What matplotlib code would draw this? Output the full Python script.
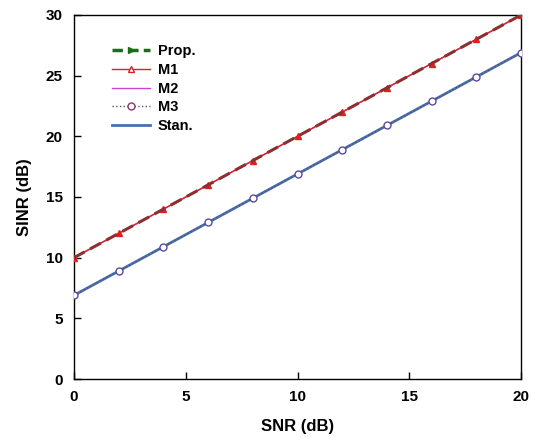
import matplotlib
matplotlib.use("Agg")
import matplotlib.pyplot as plt
from matplotlib.lines import Line2D

plt.rcParams['font.family'] = ['Liberation Sans', 'DejaVu Sans']
plt.rcParams['font.weight'] = 'bold'

snr = [0, 2, 4, 6, 8, 10, 12, 14, 16, 18, 20]
prop = [10, 12, 14, 16, 18, 20, 22, 24, 26, 28, 30]
m1 = [10, 12, 14, 16, 18, 20, 22, 24, 26, 28, 30]
m2 = [10, 12, 14, 16, 18, 20, 22, 24, 26, 28, 30]
m3 = [6.9, 8.9, 10.9, 12.9, 14.9, 16.9, 18.9, 20.9, 22.9, 24.9, 26.9]
stan = [6.9, 8.9, 10.9, 12.9, 14.9, 16.9, 18.9, 20.9, 22.9, 24.9, 26.9]

fig = plt.figure(figsize=(5.4, 4.37), dpi=100)
ax = fig.add_axes([0.137, 0.1327, 0.828, 0.833])

ax.plot(snr, stan, color='#4a6fb5', lw=2.0, label='Stan.', zorder=2)
ax.plot(snr, m3, color='#555555', lw=1.0, ls=':', marker='o', ms=5,
        mfc='white', mec='#5a4aa0', mew=1.0, label='M3', zorder=3)
ax.plot(snr, m2, color='#d040d0', lw=1.0, label='M2', zorder=2)
ax.plot(snr, m1, color='#e02020', lw=1.0, marker='^', ms=5,
        mfc='#e02020', mec='#e02020', label='M1', zorder=3)
ax.plot(snr, prop, color='#8a3030', lw=2.2, ls=(0, (4, 2)), label='Prop.', zorder=4)

handles = [
    Line2D([], [], color='#1a6e1a', lw=2.5, ls=(0, (3, 1.5)), marker='>', ms=5,
           mfc='#1a6e1a', mec='#1a6e1a'),
    Line2D([], [], color='#e02020', lw=1.0, marker='^', ms=5, mfc='white', mec='#e02020'),
    Line2D([], [], color='#d040d0', lw=1.0),
    Line2D([], [], color='#555555', lw=1.0, ls=':', marker='o', ms=5, mfc='white', mec='#8a3a6a'),
    Line2D([], [], color='#4a6fb5', lw=2.0),
]
labels = ['Prop.', 'M1', 'M2', 'M3', 'Stan.']
ax.legend(handles, labels, loc='upper left', bbox_to_anchor=(0.055, 0.955),
          frameon=False, handlelength=2.6, handletextpad=0.55, labelspacing=0.32,
          prop={'weight': 'bold', 'size': 10.5})

ax.set_xlim(0, 20)
ax.set_ylim(0, 30)
ax.set_xticks([0, 5, 10, 15, 20])
ax.set_yticks([0, 5, 10, 15, 20, 25, 30])
ax.tick_params(direction='in', length=5, labelsize=11, width=1, pad=8)
for lab in ax.get_xticklabels() + ax.get_yticklabels():
    lab.set_fontweight('bold')
ax.set_xlabel('SNR (dB)', fontsize=12, fontweight='bold', labelpad=11)
ax.set_ylabel('SINR (dB)', fontsize=12, fontweight='bold', labelpad=10)
for s in ax.spines.values():
    s.set_linewidth(1.0)

fig.savefig('out.png', dpi=100)
